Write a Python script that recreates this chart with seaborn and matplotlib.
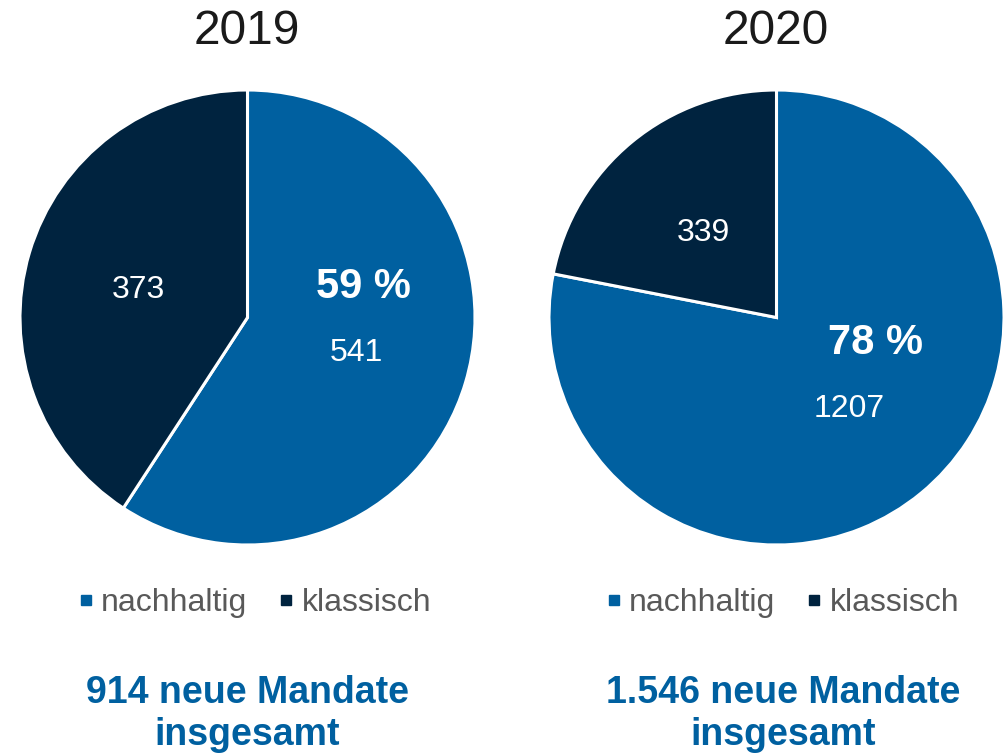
import matplotlib
matplotlib.use("Agg")
import matplotlib.pyplot as plt
from matplotlib.lines import Line2D
import seaborn as sns

sns.set_theme(style="white")
plt.rcParams['font.family'] = ['Liberation Sans', 'DejaVu Sans']

years = ["2019", "2020"]
categories = ["nachhaltig", "klassisch"]
values_2019 = [541, 373]
values_2020 = [1207, 339]
pct_labels = ["59 %", "78 %"]
totals_text = ["914 neue Mandate\ninsgesamt", "1.546 neue Mandate\ninsgesamt"]

colors = ["#0060A0", "#00233F"]
legend_grey = "#595959"

fig = plt.figure(figsize=(10.06, 7.56), dpi=100)
W, H = 1006, 756

def fx(px):
    return px / W

def fy(py):
    return 1 - py / H

# pie boxes in pixels: (left, top, size)
boxes = [(20, 90, 455), (549, 90, 455)]
all_values = [values_2019, values_2020]

# label pixel positions (annotation placement)
pct_pos = [(363, 287), (876, 343)]
val1_pos = [(356, 353), (849, 409)]
val2_pos = [(138, 290), (703, 233)]
title_x = [247, 776]
total_x = [247, 783]
legend_x = [255, 783]

for i in range(2):
    left, top, size = boxes[i]
    ax = fig.add_axes([fx(left), fy(top + size), size / W, size / H])
    vals = all_values[i]
    ax.pie(vals, colors=colors, startangle=90, counterclock=False,
           wedgeprops=dict(edgecolor="white", linewidth=2.2), radius=1.0)
    ax.set_xlim(-1.0, 1.0)
    ax.set_ylim(-1.0, 1.0)
    ax.set_aspect("equal", adjustable="box")
    ax.axis("off")

    fig.text(fx(title_x[i]), fy(32), years[i], ha="center", va="center",
             fontsize=34.5, color="#1a1a1a")
    fig.text(fx(pct_pos[i][0]), fy(pct_pos[i][1]), pct_labels[i], ha="center",
             va="center", fontsize=30, fontweight="bold", color="white")
    fig.text(fx(val1_pos[i][0]), fy(val1_pos[i][1]), str(vals[0]), ha="center",
             va="center", fontsize=23, color="white")
    fig.text(fx(val2_pos[i][0]), fy(val2_pos[i][1]), str(vals[1]), ha="center",
             va="center", fontsize=23, color="white")

    handles = [Line2D([0], [0], marker="s", linestyle="none", markersize=7,
                      markerfacecolor=c, markeredgecolor=c) for c in colors]
    leg = fig.legend(handles, categories, loc="center", ncol=2,
                     bbox_to_anchor=(fx(legend_x[i]), fy(603)), frameon=False,
                     fontsize=23, handlelength=0.45, handletextpad=0.25,
                     columnspacing=1.0, borderpad=0, labelcolor=legend_grey)

    fig.text(fx(total_x[i]), fy(714), totals_text[i], ha="center", va="center",
             fontsize=27, fontweight="bold", color="#0060A0", linespacing=1.22)

fig.savefig("out.png", dpi=100)
